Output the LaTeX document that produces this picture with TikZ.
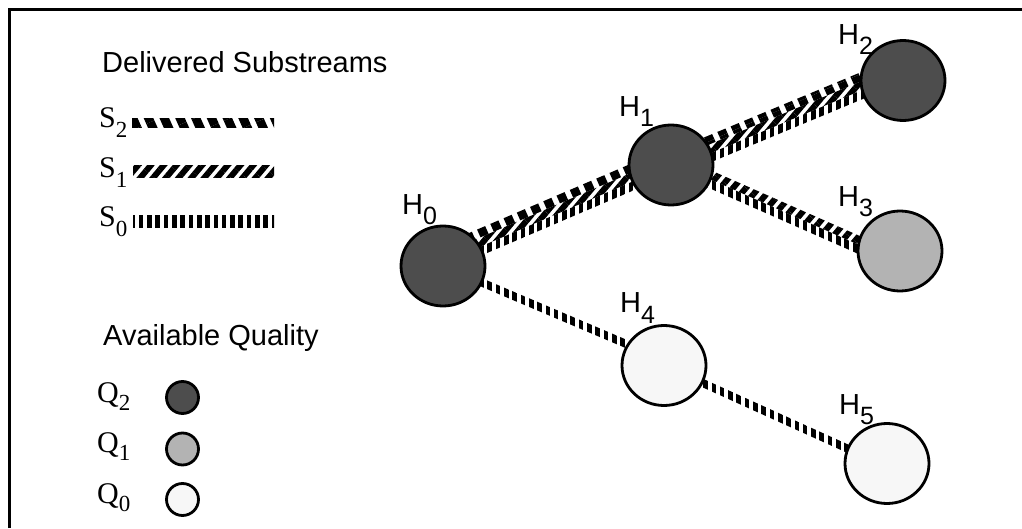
\documentclass[tikz,border=0pt]{standalone}
\usepackage{fontspec}
\setmainfont{Liberation Serif}
\setsansfont{Liberation Sans}
\usetikzlibrary{calc,patterns.meta,backgrounds,shapes.geometric}
\definecolor{qtwo}{HTML}{4D4D4D}
\definecolor{qone}{HTML}{B3B3B3}
\definecolor{qzero}{HTML}{F7F7F7}
\newcommand\hsub[1]{\raisebox{-10pt}{\fontsize{25}{25}\selectfont #1}}
\newcommand\ssub[1]{\raisebox{-10pt}{\fontsize{23}{23}\selectfont #1}}
\newcommand\qsub[1]{\raisebox{-8pt}{\fontsize{23}{23}\selectfont #1}}
\newcommand\bandstrip[5]{%
  \fill[#1] ($(#2)!#4!90:(#3)$) -- ($(#3)!#4!-90:(#2)$) -- ($(#3)!#5!-90:(#2)$) -- ($(#2)!#5!90:(#3)$) -- cycle;}
\tikzset{
  host/.style={ellipse, draw=black, line width=2.8pt, minimum width=84pt, minimum height=80pt, inner sep=0pt},
  legdot/.style={circle, draw=black, line width=2.8pt, minimum size=32pt, inner sep=0pt},
  hlab/.style={font=\sffamily\fontsize{29}{29}\selectfont, inner sep=0pt, anchor=base west},
  slab/.style={font=\rmfamily\fontsize{30}{30}\selectfont, inner sep=0pt, anchor=base west},
  legtitle/.style={font=\sffamily\fontsize{29}{29}\selectfont, inner sep=0pt, anchor=base west},
  sZero/.style={pattern={Lines[angle=90,distance=8.3pt,line width=4.6pt]}},
  sOne/.style={pattern={Lines[angle=50,distance=9.8pt,line width=6pt]}},
  sTwo/.style={pattern={Lines[angle=-66,distance=14.4pt,line width=8.8pt]}},
}
\begin{document}
\begin{tikzpicture}[x=1pt,y=1pt]
\useasboundingbox (0,0) rectangle (1022,528);
\draw[line width=3pt] (9,0) -- (9,518) -- (1022,518);

% legend
\node[legtitle] (t1) at (102,455) {Delivered Substreams};
\node[slab] (ls2) at (99,400) {S\ssub{2}};
\node[slab] (ls1) at (99,350) {S\ssub{1}};
\node[slab] (ls0) at (99,301) {S\ssub{0}};
\fill[sTwo]  (132,400.5) rectangle (274,409.5);
\fill[sOne]  (133,350.5) rectangle (274,362);
\fill[sZero] (133,300) rectangle (274,312);

\node[legtitle] (t2) at (103,183) {Available Quality};
\node[slab] (lq2) at (97,126) {Q\qsub{2}};
\node[slab] (lq1) at (97,76) {Q\qsub{1}};
\node[slab] (lq0) at (97,25) {Q\qsub{0}};
\node[legdot, fill=qtwo]  (d2) at (182.5,130.5) {};
\node[legdot, fill=qone]  (d1) at (182.5,79) {};
\node[legdot, fill=qzero] (d0) at (182.5,28.5) {};

% hosts
\node[host, fill=qtwo]  (h0) at (443,262) {};
\node[host, fill=qtwo]  (h1) at (671,363) {};
\node[host, fill=qtwo]  (h2) at (903,447.5) {};
\node[host, fill=qone]  (h3) at (900,277) {};
\node[host, fill=qzero] (h4) at (664,162.5) {};
\node[host, fill=qzero] (h5) at (887,64.5) {};

\node[hlab] (n0) at (402,313) {H\hsub{0}};
\node[hlab] (n1) at (619,411) {H\hsub{1}};
\node[hlab] (n2) at (838,483) {H\hsub{2}};
\node[hlab] (n3) at (838,321) {H\hsub{3}};
\node[hlab] (n4) at (620,215) {H\hsub{4}};
\node[hlab] (n5) at (839,114) {H\hsub{5}};

% link end points
\coordinate (c01a) at ($(h0.center)+(0,8)$);
\coordinate (c01b) at ($(h1.center)+(0,4.5)$);
\coordinate (c12a) at (h1.center);
\coordinate (c12b) at ($(h2.center)+(0,12)$);
\coordinate (c13a) at ($(h1.center)+(0,3)$);
\coordinate (c13b) at ($(h3.center)+(0,-12)$);
\coordinate (c04a) at (h0.center);
\coordinate (c04b) at ($(h4.center)+(0,5.5)$);
\coordinate (c45a) at (h4.center);
\coordinate (c45b) at ($(h5.center)+(0,-3)$);

\begin{pgfonlayer}{background}
  \bandstrip{sTwo}{c01a}{c01b}{4.25pt}{12.75pt}
  \bandstrip{sOne}{c01a}{c01b}{-4.25pt}{4.25pt}
  \bandstrip{sZero}{c01a}{c01b}{-12.75pt}{-4.25pt}
  \bandstrip{sTwo}{c12a}{c12b}{4.25pt}{12.75pt}
  \bandstrip{sOne}{c12a}{c12b}{-4.25pt}{4.25pt}
  \bandstrip{sZero}{c12a}{c12b}{-12.75pt}{-4.25pt}
  \bandstrip{sOne}{c13a}{c13b}{0pt}{8.5pt}
  \bandstrip{sZero}{c13a}{c13b}{-8.5pt}{0pt}
  \bandstrip{sZero}{c04a}{c04b}{-4pt}{4pt}
  \bandstrip{sZero}{c45a}{c45b}{-4pt}{4pt}
\end{pgfonlayer}
\end{tikzpicture}
\end{document}
